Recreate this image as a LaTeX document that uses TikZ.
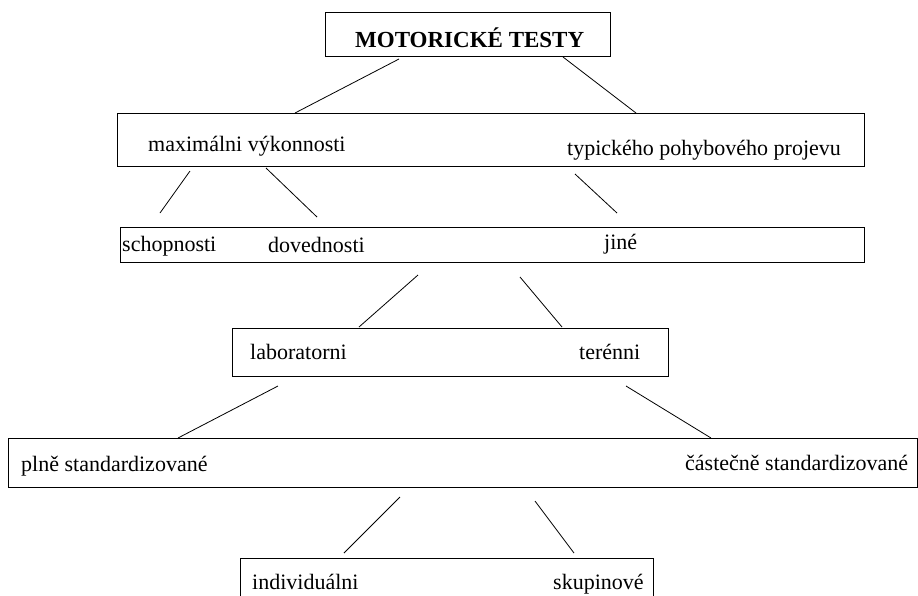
\documentclass[tikz,border=0pt]{standalone}
\usepackage{fontspec}
\setmainfont{Liberation Serif}

\begin{document}
\begin{tikzpicture}[x=1pt,y=-1pt,
    box/.style={draw,line width=1pt,inner sep=0pt,anchor=north west},
    txt/.style={anchor=base west,inner sep=0pt,font=\fontsize{22}{26}\selectfont},
    spoj/.style={line width=0.8pt}]
  \clip (0,0) rectangle (918,595);
  % ramecky
  \node[box,minimum width=285pt,minimum height=44pt](b1)at(325,12){};
  \node[box,minimum width=747pt,minimum height=53pt](b2)at(117,113){};
  \node[box,minimum width=744pt,minimum height=35pt](b3)at(120,227){};
  \node[box,minimum width=436pt,minimum height=48pt](b4)at(232,328){};
  \node[box,minimum width=909pt,minimum height=49pt](b5)at(8,438){};
  \node[box,minimum width=413pt,minimum height=60pt](b6)at(240,558){};
  % texty
  \node[txt,font=\bfseries\fontsize{23}{27}\selectfont](motor)at(355,47){MOTORICKÉ TESTY};
  \node[txt](max)at(148,151){maximálni výkonnosti};
  \node[txt](typ)at(567,155){typického pohybového projevu};
  \node[txt](schop)at(122,251){schopnosti};
  \node[txt](doved)at(268,252){dovednosti};
  \node[txt](jine)at(604,249){jiné};
  \node[txt](lab)at(250,359){laboratorni};
  \node[txt](ter)at(579,359){terénni};
  \node[txt](plne)at(21,471){plně standardizované};
  \node[txt](cast)at(685,470){částečně standardizované};
  \node[txt](indiv)at(252,589){individuálni};
  \node[txt](skup)at(553,589){skupinové};
  % spojnice
  \coordinate (s1)at(399,59);  \coordinate (e1)at(295,113);
  \coordinate (s2)at(563,57);  \coordinate (e2)at(636,113);
  \coordinate (s3)at(190,171); \coordinate (e3)at(160,213);
  \coordinate (s4)at(266,168); \coordinate (e4)at(317,217);
  \coordinate (s5)at(575,174); \coordinate (e5)at(617,213);
  \coordinate (s6)at(418,275); \coordinate (e6)at(359,327);
  \coordinate (s7)at(520,277); \coordinate (e7)at(562,327);
  \coordinate (s8)at(278,386); \coordinate (e8)at(178,438);
  \coordinate (s9)at(626,386); \coordinate (e9)at(711,438);
  \coordinate (s10)at(400,497); \coordinate (e10)at(344,553);
  \coordinate (s11)at(535,501); \coordinate (e11)at(574,553);
  \draw[spoj] (s1)--(e1);
  \draw[spoj] (s2)--(e2);
  \draw[spoj] (s3)--(e3);
  \draw[spoj] (s4)--(e4);
  \draw[spoj] (s5)--(e5);
  \draw[spoj] (s6)--(e6);
  \draw[spoj] (s7)--(e7);
  \draw[spoj] (s8)--(e8);
  \draw[spoj] (s9)--(e9);
  \draw[spoj] (s10)--(e10);
  \draw[spoj] (s11)--(e11);
\end{tikzpicture}
\end{document}
